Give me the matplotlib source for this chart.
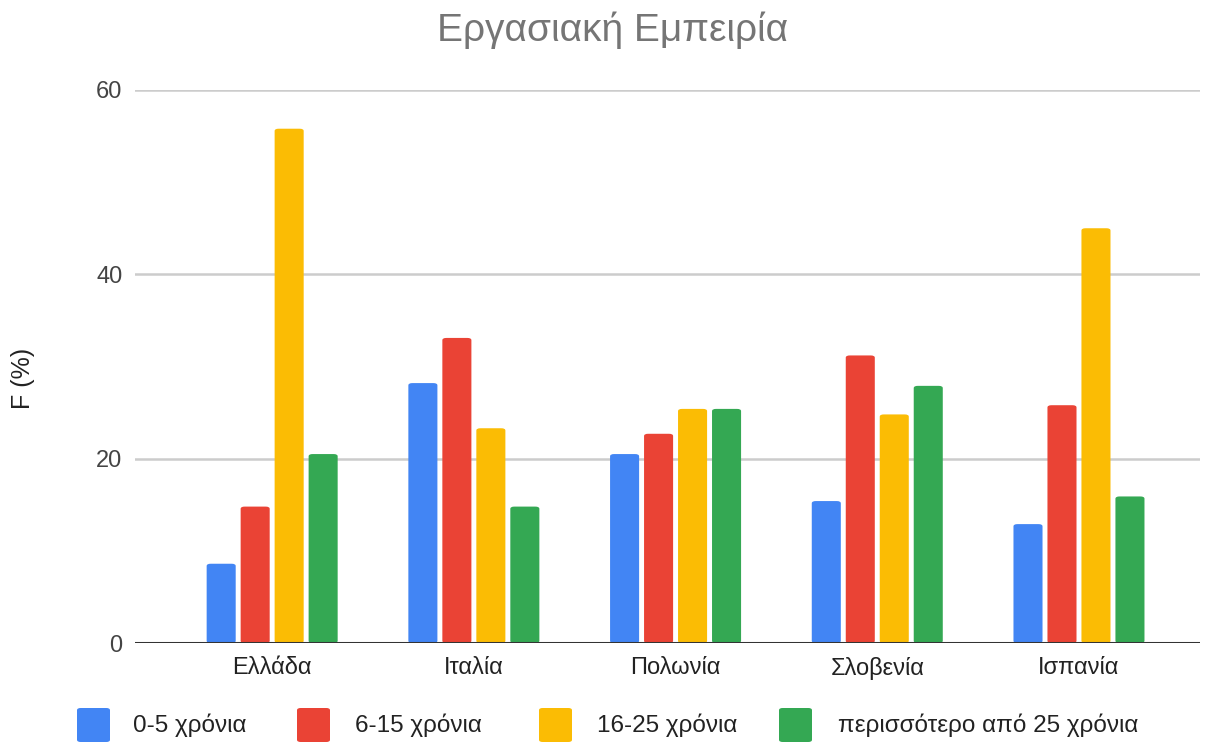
import numpy as np
import matplotlib.pyplot as plt
from matplotlib.patches import FancyBboxPatch

plt.rcParams['font.family'] = ['Liberation Sans', 'DejaVu Sans']

countries = ['Ελλάδα', 'Ιταλία', 'Πολωνία', 'Σλοβενία', 'Ισπανία']
series_names = ['0-5 χρόνια', '6-15 χρόνια', '16-25 χρόνια', 'περισσότερο από 25 χρόνια']
years_0_5 = [8.6, 28.2, 20.5, 15.4, 12.9]
years_6_15 = [14.8, 33.1, 22.7, 31.2, 25.8]
years_16_25 = [55.8, 23.3, 25.4, 24.8, 45.0]
years_25_plus = [20.5, 14.8, 25.4, 27.9, 15.9]
yticks = [0, 20, 40, 60]

colors = ['#4285f4', '#ea4335', '#fbbc04', '#34a853']
values = [years_0_5, years_6_15, years_16_25, years_25_plus]

W, H = 1214, 743
fig = plt.figure(figsize=(W / 100, H / 100), dpi=100)
ax = fig.add_axes([135/W, 1-643/H, (1200-135)/W, (643-90)/H])

x = np.arange(len(countries))
width = 0.144
step = 0.1685
for i, (vals, c) in enumerate(zip(values, colors)):
    bars = ax.bar(x + (i - 1.5) * step, vals, width, color=c, zorder=3)
    # swap the plain rectangles for ones with slightly rounded corners
    for b in bars:
        b.set_visible(False)
        fb = FancyBboxPatch((b.get_x(), 0), b.get_width(), b.get_height(),
                            boxstyle='round,pad=0,rounding_size=0.02',
                            mutation_aspect=12, fc=c, ec='none', zorder=3)
        ax.add_patch(fb)

ax.set_xlim(-0.68, 4.6)
ax.set_ylim(0, 60)
ax.set_yticks(yticks)
ax.set_xticks(x)
ax.set_xticklabels(countries)
ax.grid(axis='y', color='#cccccc', linewidth=1.8, zorder=0)
ax.axhline(0, color='#333333', linewidth=2.2, zorder=4)
for s in ax.spines.values():
    s.set_visible(False)
ax.tick_params(length=0, labelsize=17, labelcolor='#444444')
ax.tick_params(axis='x', pad=10, labelcolor='#222222')
ax.tick_params(axis='y', pad=9)

fig.text(23/W, 1-378/H, 'F (%)', rotation=90, ha='center', va='center',
         fontsize=18, color='#222222')
fig.text(613/W, 1-30/H, 'Εργασιακή Εμπειρία', ha='center', va='center',
         fontsize=28, color='#757575')

# legend row
sq_x = [77, 297, 539, 779]
txt_x = [133, 355, 597, 838]
for sx, tx, c, name in zip(sq_x, txt_x, colors, series_names):
    fig.patches.append(FancyBboxPatch((sx/W, 1-742/H), 33/W, 34/H,
                                      boxstyle='round,pad=0,rounding_size=0.003',
                                      transform=fig.transFigure, fc=c, ec='none'))
    fig.text(tx/W, 1-725/H, name, ha='left', va='center', fontsize=17.5, color='#222222')

fig.savefig('out.png', dpi=100)
